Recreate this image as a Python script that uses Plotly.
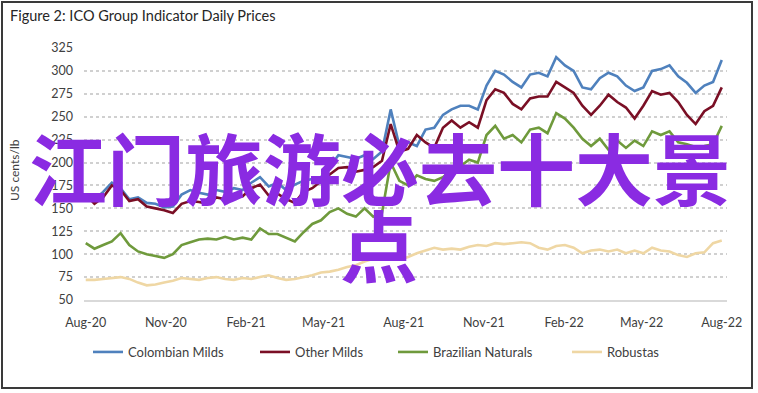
import pandas as pd
import plotly.graph_objects as go

# ---- data (US cents/lb), sampled every 10 days from 1 Aug 2020 ----
dates = pd.date_range("2020-08-01", periods=74, freq="10D")

colombian_milds = [163, 160, 168, 178, 172, 160, 162, 156, 155, 151,
                   152, 165, 170, 167, 165, 170, 168, 172, 170, 178,
                   184, 174, 178, 170, 176, 180, 182, 184, 195, 208,
                   206, 204, 208, 204, 212, 258, 218, 222, 218, 236,
                   238, 252, 258, 262, 262, 258, 284, 300, 296, 288,
                   282, 296, 298, 294, 315, 306, 300, 282, 280, 292,
                   298, 294, 284, 278, 282, 300, 302, 306, 294, 287,
                   276, 284, 288, 312]

other_milds = [165, 155, 162, 175, 170, 158, 160, 152, 150, 148,
               145, 155, 158, 157, 155, 162, 160, 165, 163, 172,
               176, 164, 166, 160, 156, 168, 172, 180, 187, 194,
               195, 190, 192, 195, 202, 242, 212, 215, 230, 222,
               216, 238, 246, 238, 244, 238, 268, 280, 276, 264,
               258, 270, 272, 272, 288, 282, 276, 262, 252, 262,
               274, 266, 260, 248, 262, 278, 274, 276, 266, 252,
               242, 256, 262, 282]

brazilian_naturals = [112, 106, 110, 114, 123, 110, 103, 100, 98, 96,
                      100, 110, 113, 116, 117, 116, 119, 116, 118, 116,
                      128, 122, 122, 118, 114, 124, 133, 137, 146, 150,
                      144, 141, 150, 141, 145, 200, 180, 175, 186, 182,
                      180, 184, 192, 196, 203, 200, 230, 240, 226, 230,
                      222, 236, 238, 232, 254, 248, 238, 226, 218, 226,
                      214, 224, 216, 224, 218, 234, 230, 234, 222, 220,
                      217, 218, 220, 240]

robustas = [72, 72, 73, 74, 75, 73, 69, 66, 67, 69,
            71, 74, 73, 72, 74, 75, 73, 72, 74, 73,
            75, 77, 74, 72, 73, 75, 77, 80, 81, 83,
            86, 88, 92, 95, 97, 96, 94, 97, 101, 104,
            107, 105, 106, 105, 108, 110, 109, 112, 111, 112,
            113, 112, 107, 105, 109, 110, 107, 101, 104, 105,
            103, 105, 101, 104, 101, 107, 104, 103, 99, 97,
            101, 102, 112, 115]

series_names = ["Colombian Milds", "Other Milds", "Brazilian Naturals", "Robustas"]
series_values = [colombian_milds, other_milds, brazilian_naturals, robustas]
series_colors = ["#4f81bd", "#7a0f25", "#6f9a3c", "#efd7a4"]

x_tick_vals = pd.date_range("2020-08-01", periods=9, freq="3MS")
x_tick_text = ["Aug-20", "Nov-20", "Feb-21", "May-21", "Aug-21",
               "Nov-21", "Feb-22", "May-22", "Aug-22"]
y_tick_vals = [50, 75, 100, 125, 150, 175, 200, 225, 250, 275, 300, 325]

title_text = "Figure 2: ICO Group Indicator Daily Prices"
y_title = "US cents/lb"
watermark_line1 = "江门旅游必去十大景"
watermark_line2 = "点"

# ---- layout geometry (pixels) ----
W, H = 758, 393
L, R, T, B = 84, 727, 48, 300
pw, ph = R - L, B - T


def px(xp):
    return (xp - L) / pw


def py(yp):
    return (B - yp) / ph


FONT = "Lato, 'Open Sans', sans-serif"
TXT = "#404040"

# left pixel of each legend entry's line sample
legend_left = [94, 261, 399, 573]
legend_ids = ["legend", "legend2", "legend3", "legend4"]

fig = go.Figure()
for name, vals, col, lid in zip(series_names, series_values, series_colors, legend_ids):
    fig.add_trace(go.Scatter(x=dates, y=vals, mode="lines", name=name,
                             legend=lid, line=dict(color=col, width=2.6)))

legend_layout = {}
for lid, lx in zip(legend_ids, legend_left):
    legend_layout[lid] = dict(
        orientation="h", x=px(lx - 6), xanchor="left",
        y=py(352), yanchor="middle", bgcolor="rgba(0,0,0,0)",
        borderwidth=0, itemwidth=30,
        font=dict(family=FONT, size=13, color=TXT),
    )

fig.update_layout(
    width=W, height=H,
    margin=dict(l=L, r=W - R, t=T, b=H - B, pad=0),
    paper_bgcolor="white", plot_bgcolor="white",
    font=dict(family=FONT, size=12, color=TXT),
    showlegend=True,
    **legend_layout,
)

fig.update_xaxes(
    range=["2020-07-30", "2022-08-07"],
    tickmode="array", tickvals=x_tick_vals, ticktext=x_tick_text,
    showgrid=False, zeroline=False,
    showline=True, linecolor="#d9d9d9", linewidth=1.5,
    ticks="", ticklabelstandoff=10,
    tickfont=dict(family=FONT, size=12.5, color=TXT),
)
fig.update_yaxes(
    range=[50, 325], tickmode="array", tickvals=y_tick_vals,
    showgrid=True, gridcolor="#d0d0d0", griddash="dot", gridwidth=1.5,
    zeroline=False, showline=False, ticks="", ticklabelstandoff=10,
    tickfont=dict(family=FONT, size=12.5, color=TXT),
)

annotations = [
    dict(text=title_text, x=px(8), y=py(15), xref="paper", yref="paper",
         xanchor="left", yanchor="middle", showarrow=False,
         font=dict(family=FONT, size=14.5, color="#262626")),
    dict(text=y_title, x=px(14), y=py(170), xref="paper", yref="paper",
         xanchor="center", yanchor="middle", showarrow=False, textangle=-90,
         font=dict(family=FONT, size=12, color=TXT)),
    dict(text=watermark_line1, x=px(380), y=py(166), xref="paper", yref="paper",
         xanchor="center", yanchor="middle", showarrow=False,
         font=dict(family="Noto Sans CJK SC", size=78, color="#8a2be2", weight=700)),
    dict(text=watermark_line2, x=px(379), y=py(243), xref="paper", yref="paper",
         xanchor="center", yanchor="middle", showarrow=False,
         font=dict(family="Noto Sans CJK SC", size=78, color="#8a2be2", weight=700)),
]
fig.update_layout(annotations=annotations)

fig.add_shape(type="rect", xref="paper", yref="paper",
              x0=px(2), x1=px(752), y0=py(388), y1=py(2),
              line=dict(color="#3a3a3a", width=2), layer="above")

fig.write_html("out.html", config={"displayModeBar": False},
               post_script="document.body.style.margin='0';")
